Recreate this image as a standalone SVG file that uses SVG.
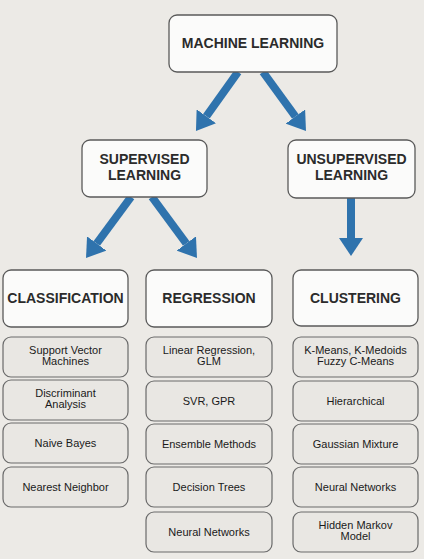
<svg xmlns="http://www.w3.org/2000/svg" width="424" height="559" viewBox="0 0 424 559">
<style>
.main{fill:#fbfbfa;stroke:#5a5a5a;stroke-width:1.3}
.sub{fill:#e9e7e3;stroke:#6a6a6a;stroke-width:1.2}
.h{font-family:"Liberation Sans",Arial,sans-serif;font-weight:bold;font-size:14px;fill:#2b2b2b;text-anchor:middle}
.t{font-family:"Liberation Sans",Arial,sans-serif;font-size:11px;fill:#1a1a1a;text-anchor:middle}
.arr{stroke:#2f73ad;stroke-width:8;fill:none}
</style>
<defs>
<marker id="ah" viewBox="0 -12 18 24" refX="0" refY="0" markerWidth="18" markerHeight="24" markerUnits="userSpaceOnUse" orient="auto">
<path d="M0,-12 L18,0 L0,12 z" fill="#2f73ad"/>
</marker>
</defs>
<rect x="0" y="0" width="424" height="559" fill="#eceae6"/>
<g id="connectors">
<line class="arr" x1="238" y1="72" x2="206.4" y2="116.3" marker-end="url(#ah)"/>
<line class="arr" x1="263" y1="72" x2="295.4" y2="116.5" marker-end="url(#ah)"/>
<line class="arr" x1="131" y1="197" x2="96.7" y2="243.5" marker-end="url(#ah)"/>
<line class="arr" x1="152" y1="197" x2="186.3" y2="243.5" marker-end="url(#ah)"/>
<line class="arr" x1="351" y1="198" x2="351" y2="238" marker-end="url(#ah)"/>
</g>
<g id="machine-learning"><rect class="main" x="169" y="15" width="168" height="57" rx="8"/><text class="h" x="253" y="48">MACHINE LEARNING</text></g>
<g id="supervised"><rect class="main" x="82" y="140" width="125" height="57" rx="8"/><text class="h" x="144.5" y="164">SUPERVISED</text><text class="h" x="144.5" y="180">LEARNING</text></g>
<g id="unsupervised"><rect class="main" x="288" y="140" width="127" height="58" rx="8"/><text class="h" x="351.5" y="164">UNSUPERVISED</text><text class="h" x="351.5" y="180">LEARNING</text></g>

<g id="classification"><rect class="main" x="3" y="270" width="125" height="57" rx="8"/><text class="h" x="65.5" y="303">CLASSIFICATION</text></g>
<g id="regression"><rect class="main" x="146" y="270" width="126" height="57" rx="8"/><text class="h" x="209" y="303">REGRESSION</text></g>
<g id="clustering"><rect class="main" x="293" y="270" width="125" height="56" rx="8"/><text class="h" x="355.5" y="303">CLUSTERING</text></g>

<g id="svm"><rect class="sub" x="3" y="337" width="125" height="40" rx="8"/><text class="t" x="65.5" y="354">Support Vector</text><text class="t" x="65.5" y="365">Machines</text></g>
<g id="discriminant"><rect class="sub" x="3" y="380" width="125" height="40" rx="8"/><text class="t" x="65.5" y="397">Discriminant</text><text class="t" x="65.5" y="408">Analysis</text></g>
<g id="naive-bayes"><rect class="sub" x="3" y="423" width="125" height="40" rx="8"/><text class="t" x="65.5" y="447">Naive Bayes</text></g>
<g id="nearest-neighbor"><rect class="sub" x="3" y="467" width="125" height="40" rx="8"/><text class="t" x="65.5" y="491">Nearest Neighbor</text></g>

<g id="linear-regression"><rect class="sub" x="146" y="337" width="126" height="40" rx="8"/><text class="t" x="209" y="354">Linear Regression,</text><text class="t" x="209" y="365">GLM</text></g>
<g id="svr-gpr"><rect class="sub" x="146" y="381" width="126" height="40" rx="8"/><text class="t" x="209" y="405">SVR, GPR</text></g>
<g id="ensemble"><rect class="sub" x="146" y="424" width="126" height="40" rx="8"/><text class="t" x="209" y="448">Ensemble Methods</text></g>
<g id="decision-trees"><rect class="sub" x="146" y="467" width="126" height="40" rx="8"/><text class="t" x="209" y="491">Decision Trees</text></g>
<g id="neural-networks-reg"><rect class="sub" x="146" y="512" width="126" height="40" rx="8"/><text class="t" x="209" y="536">Neural Networks</text></g>

<g id="kmeans"><rect class="sub" x="293" y="337" width="125" height="40" rx="8"/><text class="t" x="355.5" y="354">K-Means, K-Medoids</text><text class="t" x="355.5" y="365">Fuzzy C-Means</text></g>
<g id="hierarchical"><rect class="sub" x="293" y="381" width="125" height="40" rx="8"/><text class="t" x="355.5" y="405">Hierarchical</text></g>
<g id="gaussian"><rect class="sub" x="293" y="424" width="125" height="40" rx="8"/><text class="t" x="355.5" y="448">Gaussian Mixture</text></g>
<g id="neural-networks-clu"><rect class="sub" x="293" y="467" width="125" height="40" rx="8"/><text class="t" x="355.5" y="491">Neural Networks</text></g>
<g id="hmm"><rect class="sub" x="293" y="512" width="125" height="40" rx="8"/><text class="t" x="355.5" y="529">Hidden Markov</text><text class="t" x="355.5" y="540">Model</text></g>
</svg>
